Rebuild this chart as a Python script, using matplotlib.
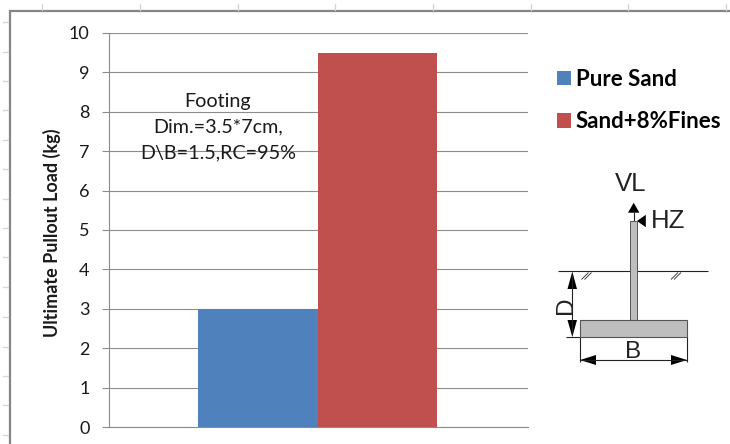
"""Footing pullout load bar chart with the footing sketch beside it."""

import matplotlib.pyplot as plt
from matplotlib.patches import Polygon, Rectangle

W, H = 730, 444

CATEGORIES = ["Pure Sand", "Sand+8%Fines"]
PULLOUT_KG = [3.0, 9.5]
COLORS = ["#4F81BD", "#C0504D"]
Y_TICKS = list(range(0, 11))

GRID = "#8C8C8C"
FRAME = "#858585"
RULER = "#D4D4D4"
INK = "#1A1A1A"
SKETCH = "#222222"
CONCRETE = "#BEBEBE"

plt.rcParams["font.family"] = ["Lato", "DejaVu Sans"]

fig = plt.figure(figsize=(W / 100, H / 100), dpi=100)

# chart axes, placed in pixels from the reference
left, right, top, bottom = 109, 528, 33, 427
ax = fig.add_axes([left / W, 1 - bottom / H, (right - left) / W, (bottom - top) / H])
bar_w = 119.5 / (right - left)
shift = -1.0 / (right - left)
for i, (name, val, col) in enumerate(zip(CATEGORIES, PULLOUT_KG, COLORS)):
    ax.bar((i - 0.5) * bar_w + shift, val, width=bar_w, color=col, label=name, zorder=3)
ax.set_xlim(-0.5, 0.5)
ax.set_ylim(0, 10)
ax.set_xticks([])
ax.set_yticks(Y_TICKS)
ax.tick_params(axis="y", length=5, width=0.8, color=GRID, labelsize=13, labelcolor=INK, pad=9)
ax.grid(axis="y", color=GRID, lw=0.8, zorder=1)
ax.set_axisbelow(True)
for side in ("top", "right"):
    ax.spines[side].set_visible(False)
for side in ("left", "bottom"):
    ax.spines[side].set_color(GRID)
    ax.spines[side].set_linewidth(0.8)
ax.set_ylabel("Ultimate Pullout Load (kg)", fontsize=13, fontweight="bold", color=INK, va="center")
ax.yaxis.set_label_coords((52 - left) / (right - left), 1 - (233 - top) / (bottom - top))

ax.text(
    (218 - left) / (right - left) - 0.5,
    10 - (127 - top) / (bottom - top) * 10,
    "Footing\nDim.=3.5*7cm,\nD\\B=1.5,RC=95%",
    ha="center",
    va="center",
    fontsize=14.2,
    color=INK,
    linespacing=1.6,
    zorder=5,
)

fig.legend(
    loc="upper left",
    bbox_to_anchor=(548 / W, 1 - 60 / H),
    frameon=False,
    prop={"family": ["Lato", "DejaVu Sans"], "size": 16, "weight": "bold"},
    handlelength=0.625,
    handleheight=0.625,
    handletextpad=0.225,
    labelspacing=0.96,
    borderpad=0.4,
    borderaxespad=0,
    labelcolor="black",
)

# overlay in pixel coordinates for the sheet frame and the sketch
ov = fig.add_axes([0, 0, 1, 1], zorder=-1)
ov.set_xlim(0, W)
ov.set_ylim(H, 0)
ov.axis("off")
sk = fig.add_axes([0, 0, 1, 1], zorder=5)
sk.set_xlim(0, W)
sk.set_ylim(H, 0)
sk.axis("off")
sk.patch.set_alpha(0)

# spreadsheet frame and its ruler ticks
ov.plot([9.5, 9.5, W], [H, 11.5, 11.5], color=FRAME, lw=1.6, solid_joinstyle="miter")
for x in (42, 140, 238, 335, 433, 531, 628, 726):
    ov.plot([x, x], [4, 10], color=RULER, lw=0.9)
for y in (22.5, 52, 81, 110.5, 140, 169, 198.5, 228, 257, 287, 317, 346.5, 376, 405, 435):
    ov.plot([3, 8], [y, y], color=RULER, lw=0.9)


def line(xs, ys, lw=0.8):
    sk.plot(xs, ys, color=SKETCH, lw=lw, solid_capstyle="butt")


def head(tip, base_a, base_b):
    sk.add_patch(Polygon([tip, base_a, base_b], closed=True, fc="black", ec="none"))


def label(x, y, s, size, rotation=0):
    sk.text(x, y, s, ha="center", va="center", fontsize=size, color=SKETCH,
            family="Liberation Sans", rotation=rotation)


# ground, column and footing
line([558, 708], [270.7, 270.7])
sk.add_patch(Rectangle((630.3, 221), 6.7, 99.3, fc=CONCRETE, ec="#555555", lw=0.7, zorder=3))
sk.add_patch(Rectangle((579.7, 320.3), 107.6, 16.4, fc=CONCRETE, ec="#555555", lw=0.8, zorder=3))
for cx in (586.5, 676):
    for dx in (-1.5, 1.5):
        line([cx + dx - 3.5, cx + dx + 3.5], [279.5, 272.5], lw=0.6)

# vertical load
line([633.7, 633.7], [212, 221])
head((633.7, 202.7), (628, 212.7), (639.4, 212.7))
label(631, 184, "VL", 18.5)

# horizontal load
head((637, 221), (645.8, 214.8), (645.8, 227.2))
label(668.5, 221, "HZ", 18.5)

# depth dimension
line([572.3, 572.3], [275, 333])
head((572.3, 271.5), (567.5, 289), (577, 289))
head((572.3, 337), (567.5, 320), (577, 320))
line([566, 580], [336.7, 336.7])
label(565.5, 305, "D", 17.5, rotation=90)

# width dimension
line([579.7, 579.7], [336.7, 362])
line([687.3, 687.3], [336.7, 362])
line([580, 687], [360, 360])
head((580, 360), (596, 355), (596, 365))
head((687, 360), (671, 355), (671, 365))
label(633, 351.5, "B", 17.5)

fig.savefig("out.png", dpi=100)
